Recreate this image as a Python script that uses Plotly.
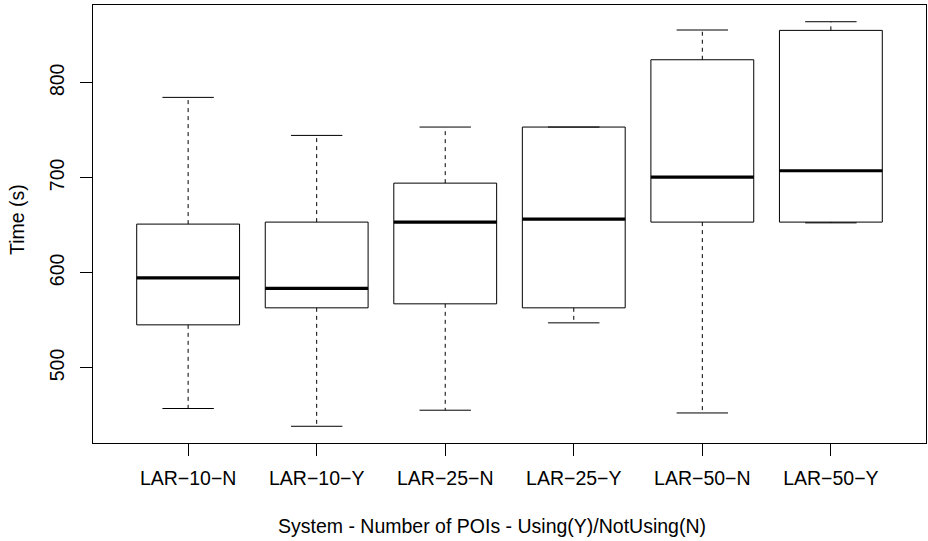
import plotly.graph_objects as go

categories = ["LAR−10−N", "LAR−10−Y", "LAR−25−N", "LAR−25−Y", "LAR−50−N", "LAR−50−Y"]
lower_whisker = [457.3, 438.6, 455.5, 547.4, 452.6, 652.6]
q1_values = [545.3, 563.2, 567.4, 563.2, 653.4, 653.4]
medians = [594.7, 583.6, 653.4, 656.5, 700.7, 707.4]
q3_values = [651.3, 653.4, 694.4, 753.4, 824.2, 855.1]
upper_whisker = [784.6, 744.6, 753.4, 753.4, 855.5, 864.2]
y_ticks = [500, 600, 700, 800]

positions = list(range(1, len(categories) + 1))
BOX_HALF = 0.4
CAP_HALF = 0.2
FONT = "Liberation Sans, Arial, Helvetica, sans-serif"
FS = 19.5

fig = go.Figure()

fig.add_trace(go.Box(
    x=positions, q1=q1_values, median=medians, q3=q3_values,
    lowerfence=q1_values, upperfence=q3_values,
    width=2 * BOX_HALF, whiskerwidth=0,
    line=dict(color="black", width=1), fillcolor="white",
    boxpoints=False, showlegend=False, hoverinfo="skip",
))

# dashed whiskers
wx, wy = [], []
for p, lo, a, b, hi in zip(positions, lower_whisker, q1_values, q3_values, upper_whisker):
    wx += [p, p, None, p, p, None]
    wy += [b, hi, None, a, lo, None]
fig.add_trace(go.Scatter(x=wx, y=wy, mode="lines",
                         line=dict(color="black", width=1, dash="4px,4px"),
                         showlegend=False, hoverinfo="skip"))

# whisker caps
cx, cy = [], []
for p, lo, hi in zip(positions, lower_whisker, upper_whisker):
    cx += [p - CAP_HALF, p + CAP_HALF, None, p - CAP_HALF, p + CAP_HALF, None]
    cy += [hi, hi, None, lo, lo, None]
fig.add_trace(go.Scatter(x=cx, y=cy, mode="lines",
                         line=dict(color="black", width=1),
                         showlegend=False, hoverinfo="skip"))

# thick medians
mx, my = [], []
for p, m in zip(positions, medians):
    mx += [p - BOX_HALF, p + BOX_HALF, None]
    my += [m, m, None]
fig.add_trace(go.Scatter(x=mx, y=my, mode="lines",
                         line=dict(color="black", width=3.2),
                         showlegend=False, hoverinfo="skip"))

fig.update_layout(
    width=928, height=541, autosize=False,
    margin=dict(l=93, r=1, t=5, b=98),
    paper_bgcolor="white", plot_bgcolor="white",
    font=dict(family=FONT, size=FS, color="black"),
    showlegend=False,
    xaxis=dict(
        range=[0.26, 6.74], tickmode="array", tickvals=positions, ticktext=categories,
        showgrid=False, zeroline=False, showline=True, mirror=True,
        linecolor="black", linewidth=1, ticks="outside", ticklen=12,
        tickcolor="black", tickwidth=1, ticklabelstandoff=6,
        tickfont=dict(family=FONT, size=FS, color="black"),
    ),
    yaxis=dict(
        range=[421.0, 881.8], tickmode="array", tickvals=y_ticks,
        showgrid=False, zeroline=False, showline=True, mirror=True,
        linecolor="black", linewidth=1, ticks="outside", ticklen=12,
        tickcolor="black", tickwidth=1, tickangle=-90, ticklabelstandoff=8,
        tickfont=dict(family=FONT, size=FS, color="black"),
    ),
    annotations=[
        dict(text="System - Number of POIs - Using(Y)/NotUsing(N)",
             xref="paper", yref="paper", x=0.4785, y=-0.19, yanchor="middle",
             xanchor="center", showarrow=False,
             font=dict(family=FONT, size=FS, color="black")),
        dict(text="Time (s)", xref="paper", yref="paper", x=-0.092, y=0.51,
             xanchor="center", yanchor="middle", textangle=-90, showarrow=False,
             font=dict(family=FONT, size=FS, color="black")),
    ],
)

fig.write_html(
    "out.html",
    config={"responsive": False, "displayModeBar": False},
    post_script=(
        "document.body.style.margin='0';document.body.style.padding='0';"
        "document.body.style.overflow='hidden';"
        "Plotly.relayout('{plot_id}', {width: 928, height: 541});"
    ),
)
